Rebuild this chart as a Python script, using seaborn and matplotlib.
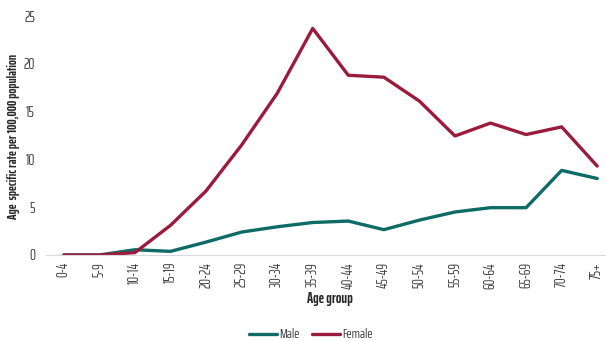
import matplotlib
matplotlib.use("Agg")
import matplotlib.pyplot as plt
import seaborn as sns
import pandas as pd

age_groups = ["0-4", "5-9", "10-14", "15-19", "20-24", "25-29", "30-34", "35-39",
              "40-44", "45-49", "50-54", "55-59", "60-64", "65-69", "70-74", "75+"]
male = [0.0, 0.0, 0.55, 0.38, 1.35, 2.4, 2.95, 3.4, 3.55, 2.65, 3.65, 4.5, 4.95, 4.95, 8.85, 8.0]
female = [0.0, 0.0, 0.25, 3.1, 6.7, 11.5, 16.9, 23.7, 18.8, 18.6, 16.1, 12.45, 13.8, 12.6, 13.4, 9.3]
y_ticks = [0, 5, 10, 15, 20, 25]

sns.set_theme(style="white")
plt.rcParams["font.family"] = ["Saira ExtraCondensed", "DejaVu Sans"]

df = pd.DataFrame({
    "Age group": age_groups * 2,
    "rate": male + female,
    "Sex": ["Male"] * len(age_groups) + ["Female"] * len(age_groups),
})
df["pos"] = list(range(len(age_groups))) * 2

fig = plt.figure(figsize=(6.06, 3.41), dpi=100)
# axes run past the right edge of the canvas so the last band is cut off
ax = fig.add_axes([46 / 606, (341 - 255) / 341, (615 - 46) / 606, (255 - 16) / 341])

palette = {"Male": "#0e6b66", "Female": "#9b1b3c"}
sns.lineplot(data=df, x="pos", y="rate", hue="Sex", palette=palette,
             linewidth=2.4, ax=ax, legend=False, sort=False)

ax.set_xlim(-0.5, len(age_groups) - 0.5)
ax.set_ylim(0, 25)
ax.set_yticks(y_ticks)
ax.set_yticklabels([str(v) for v in y_ticks], fontsize=11, color="#404040")
ax.set_xticks(range(len(age_groups)))
ax.set_xticklabels(age_groups, rotation=90, fontsize=10.5, color="#404040")
ax.set_xticks([i - 0.5 for i in range(len(age_groups) + 1)], minor=True)
ax.tick_params(axis="x", which="major", length=0, pad=5)
ax.tick_params(axis="x", which="minor", length=4, color="#d9d9d9", width=0.8, direction="out")
ax.tick_params(axis="y", length=0, pad=8)

for side in ["top", "right", "left"]:
    ax.spines[side].set_visible(False)
ax.spines["bottom"].set_color("#d9d9d9")
ax.spines["bottom"].set_linewidth(0.8)

ax.set_xlabel("")
ax.set_ylabel("")
fig.text(330 / 606, 1 - 299 / 341, "Age group", ha="center", va="center",
         fontsize=10.5, fontweight="bold", color="#262626")
fig.text(14 / 606, 1 - 136 / 341, "Age  specific rate per 100,000 population",
         rotation=90, ha="center", va="center", fontsize=9.5, fontweight="bold",
         color="#262626")

handles = [plt.Line2D([], [], color=palette[s], linewidth=2.4) for s in ["Male", "Female"]]
fig.legend(handles, ["Male", "Female"], loc="center", bbox_to_anchor=(311 / 606, 1 - 335 / 341),
           ncol=2, frameon=False, fontsize=10, handlelength=2.0, handletextpad=0.15,
           columnspacing=0.9, labelcolor="#404040")

fig.savefig("out.png", dpi=100)
